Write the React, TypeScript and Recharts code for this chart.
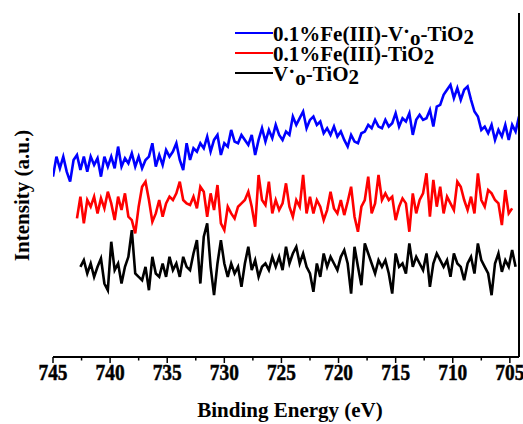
import React from 'react';
import { LineChart, Line, XAxis, YAxis } from 'recharts';

// Binding energy grid (eV), shared by all three spectra
const energy = [
  745.0, 744.7, 744.4, 744.1, 743.8, 743.5, 743.2, 742.9, 742.6, 742.3,
  742.0, 741.7, 741.4, 741.1, 740.8, 740.5, 740.2, 739.9, 739.6, 739.3,
  739.0, 738.7, 738.4, 738.1, 737.8, 737.5, 737.2, 736.9, 736.6, 736.3,
  736.0, 735.7, 735.4, 735.1, 734.8, 734.5, 734.2, 733.9, 733.6, 733.3,
  733.0, 732.7, 732.4, 732.1, 731.8, 731.5, 731.2, 730.9, 730.6, 730.3,
  730.0, 729.7, 729.4, 729.1, 728.8, 728.5, 728.2, 727.9, 727.6, 727.3,
  727.0, 726.7, 726.4, 726.1, 725.8, 725.5, 725.2, 724.9, 724.6, 724.3,
  724.0, 723.7, 723.4, 723.1, 722.8, 722.5, 722.2, 721.9, 721.6, 721.3,
  721.0, 720.7, 720.4, 720.1, 719.8, 719.5, 719.2, 718.9, 718.6, 718.3,
  718.0, 717.7, 717.4, 717.1, 716.8, 716.5, 716.2, 715.9, 715.6, 715.3,
  715.0, 714.7, 714.4, 714.1, 713.8, 713.5, 713.2, 712.9, 712.6, 712.3,
  712.0, 711.7, 711.4, 711.1, 710.8, 710.5, 710.2, 709.9, 709.6, 709.3,
  709.0, 708.7, 708.4, 708.1, 707.8, 707.5, 707.2, 706.9, 706.6, 706.3,
  706.0, 705.7, 705.4, 705.1, 704.8, 704.5, 704.2,
];

// 0.1%Fe(III)-V·o-TiO2 (blue), one value per energy
const blueFeVo = [
  570, 630, 595, 630, 585, 555, 620, 635, 590, 630,
  585, 630, 605, 625, 570, 630, 600, 630, 595, 660,
  600, 625, 610, 640, 600, 630, 595, 620, 630, 670,
  600, 635, 605, 650, 630, 645, 670, 620, 590, 670,
  620, 655, 645, 670, 655, 690, 645, 680, 695, 635,
  670, 660, 710, 675, 670, 695, 680, 665, 695, 635,
  680, 715, 675, 710, 685, 725, 695, 680, 705, 695,
  750, 725, 745, 765, 715, 740, 750, 725, 735, 700,
  715, 695, 720, 690, 705, 680, 660, 695, 675, 670,
  700, 705, 725, 715, 740, 720, 715, 740, 720, 730,
  760, 720, 745, 735, 760, 695, 740, 755, 740, 745,
  770, 720, 780, 785, 815, 830, 845, 805, 835, 800,
  830, 840, 800, 765, 750, 710, 720, 700, 725, 680,
  710, 690, 725, 680, 725, 705, 750,
];

// 0.1%Fe(III)-TiO2 (red), starts at energy index RED_START
const RED_START = 7;
const redFe = [
  445, 510, 430, 500, 480, 510, 460, 505, 475, 525,
  490, 440, 510, 470, 520, 450, 440, 400, 480, 540,
  555, 500, 435, 460, 500, 450, 490, 510, 500, 520,
  555, 500, 490, 485, 510, 475, 540, 525, 450, 520,
  470, 545, 430, 410, 480, 460, 445, 480, 490, 500,
  525, 480, 420, 575, 500, 485, 555, 460, 500, 470,
  490, 550, 480, 450, 500, 480, 575, 460, 510, 460,
  500, 480, 440, 470, 525, 475, 460, 500, 455, 495,
  540, 450, 405, 480, 500, 570, 460, 490, 575, 500,
  520, 500, 510, 440, 480, 505, 490, 405, 520, 460,
  500, 520, 580, 450, 560, 480, 540, 460, 510, 490,
  470, 555, 540, 500, 470, 510, 460, 580, 500, 480,
  530, 520, 500, 490, 425, 530, 460, 475,
];

// V·o-TiO2 (black), starts at energy index BLACK_START
const BLACK_START = 8;
const blackVo = [
  300, 320, 280, 310, 270, 300, 325, 250, 230, 375,
  290, 310, 250, 300, 330, 410, 280, 270, 260, 300,
  230, 330, 280, 270, 310, 270, 330, 290, 310, 270,
  330, 300, 290, 340, 380, 250, 390, 430, 300, 215,
  310, 380, 310, 270, 310, 280, 300, 240, 310, 360,
  290, 320, 270, 300, 310, 290, 330, 300, 330, 290,
  360, 310, 340, 360, 310, 340, 300, 280, 225, 310,
  270, 340, 300, 330, 310, 290, 330, 350, 310, 220,
  360, 300, 245, 370, 340, 310, 280, 320, 300, 320,
  280, 220, 340, 300, 310, 280, 370, 300, 330, 310,
  290, 340, 240, 310, 340, 320, 300, 320, 270, 340,
  310, 300, 260, 310, 330, 280, 370, 320, 300, 280,
  215, 310, 340, 285, 320, 300, 350, 300,
];

const bottomTicks = [745, 742.5, 740, 737.5, 735, 732.5, 730, 727.5, 725, 722.5, 720, 717.5, 715, 712.5, 710, 707.5, 705];
const topTicks = [744.1, 741.4, 738.6, 735.8, 733.0, 730.3, 727.5, 724.7, 721.9, 719.2, 716.4, 713.6, 710.9, 708.1, 705.3];
const yTicks = [81.5, 133, 184.5, 236, 287.5, 339, 390.5, 442, 493.5, 545, 596.5, 648, 699.5, 751, 802.5, 854, 905.5, 957, 1008.5];

const X_DOMAIN: [number, number] = [704.2, 745];
const Y_DOMAIN: [number, number] = [30, 1060];

const data = energy.map((e, i) => ({
  e,
  blue: i < blueFeVo.length ? blueFeVo[i] : null,
  red: i >= RED_START && i - RED_START < redFe.length ? redFe[i - RED_START] : null,
  black: i >= BLACK_START && i - BLACK_START < blackVo.length ? blackVo[i - BLACK_START] : null,
}));

const FONT = "'Liberation Serif', 'Times New Roman', Times, serif";

const renderBottomTick = (props: any) => {
  const { x, y, payload, index } = props;
  const v = Number(payload && payload.value);
  const major = Math.abs(v % 5) < 1e-6;
  return (
    <g key={`bt-${index}`}>
      <line x1={x} x2={x} y1={y} y2={y + (major ? 6 : 3.5)} stroke="#000" strokeWidth={1.5} />
      {major ? (
        <text
          x={x}
          y={y + 23}
          textAnchor="middle"
          fontFamily={FONT}
          fontWeight={700}
          fontSize={23}
          fill="#000"
          stroke="#000"
          strokeWidth={0.5}
          textLength={29}
          lengthAdjust="spacingAndGlyphs"
        >
          {String(v)}
        </text>
      ) : null}
    </g>
  );
};

const legendItems = [
  { color: '#0000ff', y: 33 },
  { color: '#ff0000', y: 53 },
  { color: '#000000', y: 73 },
];

export default function App() {
  return (
    <div style={{ position: 'absolute', left: 0, top: 0, width: 523, height: 424, background: '#fff' }}>
      <LineChart
        width={523}
        height={424}
        data={data}
        margin={{ top: 13, right: 0, bottom: 0, left: 53 }}
      >
        <XAxis
          xAxisId="b"
          dataKey="e"
          type="number"
          domain={X_DOMAIN}
          reversed
          allowDataOverflow
          ticks={bottomTicks}
          interval={0}
          height={67}
          tickLine={false}
          tickSize={0}
          tickMargin={0}
          tick={renderBottomTick}
          axisLine={{ stroke: '#000', strokeWidth: 2 }}
        />
        <XAxis
          xAxisId="t"
          orientation="top"
          type="number"
          domain={X_DOMAIN}
          reversed
          allowDataOverflow
          ticks={topTicks}
          interval={0}
          height={0}
          mirror
          tick={false}
          tickSize={3}
          tickLine={{ stroke: '#000', strokeWidth: 1.2 }}
          axisLine={{ stroke: '#000', strokeWidth: 1.5 }}
        />
        <YAxis
          yAxisId="l"
          type="number"
          domain={Y_DOMAIN}
          allowDataOverflow
          ticks={yTicks}
          interval={0}
          width={0}
          mirror
          tick={false}
          tickSize={3}
          tickLine={{ stroke: '#333', strokeWidth: 1.2 }}
          axisLine={{ stroke: '#333', strokeWidth: 2 }}
        />
        <YAxis
          yAxisId="r"
          orientation="right"
          type="number"
          domain={Y_DOMAIN}
          allowDataOverflow
          ticks={yTicks}
          interval={0}
          width={4}
          tick={false}
          tickSize={3}
          tickLine={{ stroke: '#000', strokeWidth: 1.2 }}
          axisLine={{ stroke: '#000', strokeWidth: 2 }}
        />
        <Line xAxisId="b" yAxisId="l" dataKey="blue" stroke="#0000ff" strokeWidth={2.6} dot={false} isAnimationActive={false} connectNulls={false} />
        <Line xAxisId="b" yAxisId="l" dataKey="red" stroke="#ff0000" strokeWidth={2.6} dot={false} isAnimationActive={false} connectNulls={false} />
        <Line xAxisId="b" yAxisId="l" dataKey="black" stroke="#000000" strokeWidth={2.6} dot={false} isAnimationActive={false} connectNulls={false} />
      </LineChart>
      <svg width={523} height={424} style={{ position: 'absolute', left: 0, top: 0, pointerEvents: 'none' }}>
        {legendItems.map((it) => (
          <line key={it.color} x1={235} x2={273} y1={it.y} y2={it.y} stroke={it.color} strokeWidth={2} />
        ))}
        <g fontFamily={FONT} fontWeight={700} fontSize={21} fill="#000">
          <text x={273} y={41}>
            0.1%Fe(III)-V<tspan dy={-3}>·</tspan><tspan dy={7}>o</tspan><tspan dy={-4}>-TiO</tspan><tspan dy={3}>2</tspan>
          </text>
          <text x={273} y={61}>
            0.1%Fe(III)-TiO<tspan dy={3}>2</tspan>
          </text>
          <text x={273} y={81}>
            V<tspan dy={-3}>·</tspan><tspan dy={7}>o</tspan><tspan dy={-4}>-TiO</tspan><tspan dy={3}>2</tspan>
          </text>
          <text x={290} y={417} textAnchor="middle">Binding Energy (eV)</text>
          <text transform="translate(28.5,195.5) rotate(-90)" textAnchor="middle">Intensity (a.u.)</text>
        </g>
      </svg>
    </div>
  );
}
